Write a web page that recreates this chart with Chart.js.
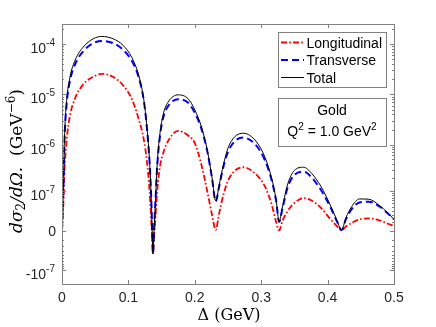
<!DOCTYPE html>
<html>
<head>
<meta charset="utf-8">
<script src="https://cdn.jsdelivr.net/npm/chart.js@4.4.1/dist/chart.umd.min.js"></script>
<style>
  html, body { margin: 0; padding: 0; background: #fff; }
  canvas { display: block; }
</style>
</head>
<body>
<canvas id="chart" width="436" height="327"></canvas>
<script>
// momentum transfer (GeV)
const delta = [0, 0.002, 0.004, 0.007, 0.012, 0.02, 0.032, 0.047, 0.06, 0.077,
  0.092, 0.105, 0.115, 0.123, 0.128, 0.132, 0.1345, 0.136, 0.137, 0.1385,
  0.1405, 0.1435, 0.148, 0.153, 0.16, 0.175, 0.19, 0.2, 0.21, 0.219,
  0.226, 0.2315, 0.2365, 0.243, 0.252, 0.273, 0.293, 0.306, 0.316, 0.3225,
  0.327, 0.332, 0.34, 0.35, 0.364, 0.376, 0.39, 0.404, 0.4145, 0.421,
  0.4275, 0.436, 0.448, 0.462, 0.478, 0.49, 0.5];

const longitudinal = [0, 4.47e-8, 3.31e-7, 1.24e-6, 3.76e-6, 8.58e-6, 1.59e-5, 2.24e-5, 2.57e-5, 2.24e-5,
  1.52e-5, 8.2e-6, 3.43e-6, 1.3e-6, 4.42e-7, 9.72e-8, 9.8e-9, -1.35e-8, -3.54e-8, -7.9e-9,
  1.26e-8, 1.08e-7, 3.83e-7, 7.09e-7, 1.19e-6, 1.884e-6, 1.52e-6, 1.07e-6, 3.83e-7, 9.72e-8,
  2.1e-8, 6.5e-10, 2.29e-8, 8.22e-8, 2.02e-7, 3.42e-7, 2.35e-7, 1.27e-7, 4.47e-8, 9.8e-9,
  2e-10, 1.12e-8, 2.92e-8, 5.09e-8, 6.79e-8, 5.95e-8, 3.64e-8, 1.41e-8, 4.2e-9, 4e-10,
  4.2e-9, 8.4e-9, 1.34e-8, 1.52e-8, 1.19e-8, 7.8e-9, 4.8e-9];

const transverse = [0, 9.72e-8, 1.43e-6, 6.52e-6, 1.87e-5, 4.06e-5, 7.2e-5, 1.04e-4, 1.15e-4, 1.04e-4,
  7.71e-5, 4.66e-5, 2.3e-5, 7.83e-6, 2.07e-6, 4.11e-7, 6.13e-8, -5.5e-9, -3.8e-8, -1.2e-9,
  4.47e-8, 3.83e-7, 1.64e-6, 3.67e-6, 5.95e-6, 8.08e-6, 6.82e-6, 4.31e-6, 2.07e-6, 7.09e-7,
  1.97e-7, 5.6e-8, 1.27e-7, 3.47e-7, 8.16e-7, 1.38e-6, 9.39e-7, 4.63e-7, 1.74e-7, 5.77e-8,
  9.8e-9, 3.52e-8, 1.27e-7, 2.35e-7, 2.76e-7, 2.07e-7, 1.08e-7, 3.91e-8, 9.8e-9, 4e-10,
  1.34e-8, 3.27e-8, 5.25e-8, 5.53e-8, 4.04e-8, 2.49e-8, 1.37e-8];

const total = [0, 1.04e-7, 1.64e-6, 7.58e-6, 2.21e-5, 4.88e-5, 8.72e-5, 1.274e-4, 1.416e-4, 1.274e-4,
  9.43e-5, 5.47e-5, 2.54e-5, 8.2e-6, 2.16e-6, 4.21e-7, 6.13e-8, -5.5e-9, -3.8e-8, -1.2e-9,
  4.78e-8, 4.21e-7, 1.884e-6, 4.31e-6, 7.14e-6, 9.84e-6, 8.2e-6, 4.95e-6, 2.27e-6, 7.43e-7,
  2.02e-7, 5.77e-8, 1.34e-7, 3.83e-7, 9.84e-7, 1.69e-6, 1.13e-6, 5.34e-7, 1.92e-7, 6.13e-8,
  9.8e-9, 3.91e-8, 1.49e-7, 2.93e-7, 3.42e-7, 2.53e-7, 1.31e-7, 4.47e-8, 1.12e-8, 4e-10,
  1.57e-8, 3.91e-8, 6.51e-8, 6.4e-8, 4.33e-8, 2.59e-8, 1.34e-8];

const seriesNames = ["Longitudinal", "Transverse", "Total"];
const yTicks = [1e-4, 1e-5, 1e-6, 1e-7, 0, -1e-7];
const yTickLabels = [["10", "-4"], ["10", "-5"], ["10", "-6"], ["10", "-7"], ["0", ""], ["-10", "-7"]];

const AXIS = "#808080";
const TEXT = "#262626";
const SANS = '"Liberation Sans", Arial, sans-serif';
const SERIF = '"DejaVu Serif", serif';

// symmetric log axis: linear near zero, log further out
const LIN = 2e-8;
const tr = v => Math.sign(v) * Math.log10(1 + Math.abs(v) / LIN);
const itr = t => Math.sign(t) * LIN * (Math.pow(10, Math.abs(t)) - 1);

class SymlogScale extends Chart.LinearScale {
  static id = "symlog";
  static defaults = {};
  buildTicks() {
    return yTicks.filter(v => v >= this.min && v <= this.max).map(v => ({ value: v }));
  }
  configure() {
    super.configure();
    this._tMin = tr(this.min);
    this._tMax = tr(this.max);
  }
  getPixelForValue(v) {
    if (v === null || v === undefined) return NaN;
    return this.getPixelForDecimal((tr(v) - this._tMin) / (this._tMax - this._tMin));
  }
  getValueForPixel(p) {
    const d = this.getDecimalForPixel(p);
    return itr(this._tMin + d * (this._tMax - this._tMin));
  }
}
Chart.register(SymlogScale);

function drawRich(ctx, parts, x, y, align) {
  let w = 0;
  for (const p of parts) { ctx.font = p.font; w += ctx.measureText(p.t).width; }
  let cx = align === "right" ? x - w : align === "center" ? x - w / 2 : x;
  for (const p of parts) {
    ctx.font = p.font;
    ctx.fillText(p.t, cx, y + (p.dy || 0));
    cx += ctx.measureText(p.t).width;
  }
}

const minorTicks = [];
for (let e = -8; e <= -5; e++) {
  for (let k = 2; k <= 9; k++) minorTicks.push(k * Math.pow(10, e));
}
minorTicks.push(1e-8, 2e-4, -2e-7);
for (let k = 1; k <= 9; k++) minorTicks.push(-k * 1e-8);

const decor = {
  id: "decor",
  afterDraw(chart) {
    const { ctx, chartArea: a, scales: { x, y } } = chart;
    ctx.save();
    ctx.strokeStyle = AXIS;
    ctx.lineWidth = 1;
    ctx.strokeRect(a.left + 0.5, a.top + 0.5, a.right - a.left, a.bottom - a.top);

    ctx.beginPath();
    x.ticks.forEach(t => {
      const px = Math.round(x.getPixelForValue(t.value)) + 0.5;
      ctx.moveTo(px, a.bottom); ctx.lineTo(px, a.bottom - 4);
      ctx.moveTo(px, a.top); ctx.lineTo(px, a.top + 4);
    });
    yTicks.forEach(v => {
      const py = Math.round(y.getPixelForValue(v)) + 0.5;
      ctx.moveTo(a.left, py); ctx.lineTo(a.left + 4, py);
      ctx.moveTo(a.right, py); ctx.lineTo(a.right - 4, py);
    });
    minorTicks.forEach(v => {
      const py = Math.round(y.getPixelForValue(v)) + 0.5;
      if (py < a.top + 1 || py > a.bottom - 1) return;
      ctx.moveTo(a.left, py); ctx.lineTo(a.left + 2, py);
      ctx.moveTo(a.right, py); ctx.lineTo(a.right - 2, py);
    });
    ctx.stroke();

    // y tick labels with exponents
    ctx.fillStyle = TEXT;
    ctx.textAlign = "left";
    ctx.textBaseline = "alphabetic";
    yTicks.forEach((v, i) => {
      const py = y.getPixelForValue(v);
      const [base, exp] = yTickLabels[i];
      if (!exp) {
        drawRich(ctx, [{ t: base, font: "14px " + SANS }], 56, py + 5, "right");
      } else {
        drawRich(ctx, [
          { t: base, font: "14px " + SANS },
          { t: exp, font: "10px " + SANS, dy: -7 }
        ], 55, py + 9, "right");
      }
    });

    // axis titles
    ctx.fillStyle = "#000";
    drawRich(ctx, [{ t: "Δ (GeV)", font: "16px " + SERIF }], 229, 320, "center");
    ctx.save();
    ctx.translate(16, 161);
    ctx.rotate(-Math.PI / 2);
    drawRich(ctx, [
      { t: "dσ", font: "italic 17px " + SERIF },
      { t: "2", font: "12px " + SERIF, dy: 3 },
      { t: "/dΩ.", font: "italic 17px " + SERIF },
      { t: "  (GeV", font: "17px " + SERIF },
      { t: "−6", font: "12px " + SERIF, dy: -7 },
      { t: ")", font: "17px " + SERIF }
    ], 0, 6, "center");
    ctx.restore();

    // legend
    ctx.fillStyle = "#fff";
    ctx.fillRect(278, 32, 108, 55);
    ctx.strokeStyle = AXIS;
    ctx.strokeRect(278.5, 32.5, 108, 55);
    const ds = chart.data.datasets;
    [47.5, 65, 82.5].forEach((by, i) => {
      const d = ds[i];
      ctx.save();
      ctx.strokeStyle = d.borderColor;
      ctx.lineWidth = d.borderWidth;
      ctx.setLineDash(d.borderDash || []);
      ctx.beginPath();
      ctx.moveTo(281, by - 5);
      ctx.lineTo(304, by - 5);
      ctx.stroke();
      ctx.restore();
      ctx.fillStyle = "#000";
      drawRich(ctx, [{ t: seriesNames[i], font: "14px " + SANS }], 306.5, by, "left");
    });

    // annotation box
    ctx.fillStyle = "#fff";
    ctx.fillRect(278, 98, 108, 49);
    ctx.strokeStyle = AXIS;
    ctx.strokeRect(278.5, 98.5, 108, 48);
    ctx.fillStyle = "#000";
    drawRich(ctx, [{ t: "Gold", font: "14px " + SANS }], 332, 115, "center");
    drawRich(ctx, [
      { t: "Q", font: "14px " + SANS },
      { t: "2", font: "10px " + SANS, dy: -6 },
      { t: " = 1.0 GeV", font: "14px " + SANS },
      { t: "2", font: "10px " + SANS, dy: -6 }
    ], 332, 136, "center");
    ctx.restore();
  }
};

const pts = arr => delta.map((d, i) => ({ x: d, y: arr[i] }));

new Chart(document.getElementById("chart"), {
  type: "line",
  data: {
    datasets: [
      { label: seriesNames[0], data: pts(longitudinal), borderColor: "#ff0000", borderWidth: 1.8,
        borderDash: [6, 2.2, 1.6, 2.2], order: 3 },
      { label: seriesNames[1], data: pts(transverse), borderColor: "#0000ff", borderWidth: 2,
        borderDash: [7, 4], order: 2 },
      { label: seriesNames[2], data: pts(total), borderColor: "#000000", borderWidth: 1, order: 1 }
    ]
  },
  options: {
    responsive: false,
    animation: false,
    devicePixelRatio: 1,
    layout: { padding: { top: 24, right: 42, left: 0, bottom: 0 } },
    elements: { point: { radius: 0 }, line: { cubicInterpolationMode: "monotone", fill: false } },
    plugins: { legend: { display: false }, tooltip: { enabled: false } },
    scales: {
      x: {
        type: "linear", min: 0, max: 0.5,
        grid: { display: false, drawTicks: false },
        border: { display: false },
        ticks: {
          stepSize: 0.1, padding: 6, color: TEXT, maxRotation: 0,
          font: { family: SANS, size: 14 },
          callback: v => (Math.abs(v) < 1e-9 ? "0" : v.toFixed(1))
        },
        afterFit: s => { s.height = 43; }
      },
      y: {
        type: "symlog", min: -2.08e-7, max: 2.5e-4,
        grid: { display: false, drawTicks: false },
        border: { display: false },
        ticks: { display: false },
        afterFit: s => { s.width = 62; }
      }
    }
  },
  plugins: [decor]
});
</script>
</body>
</html>
